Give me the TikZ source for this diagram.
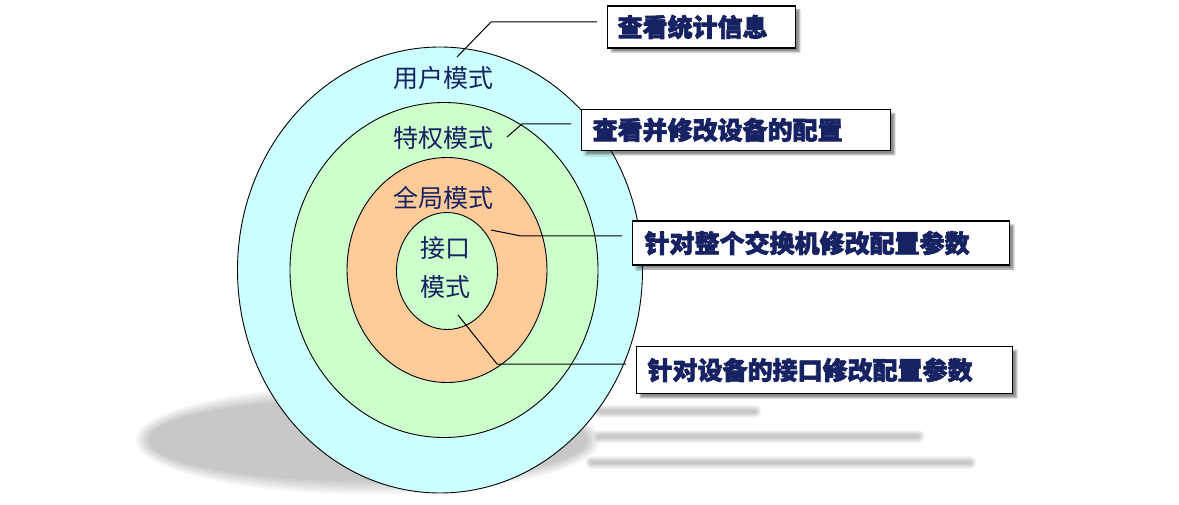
\documentclass[tikz,border=0pt]{standalone}
\usepackage{fontspec}
\usepackage{tikz}
\usetikzlibrary{shapes.geometric,shadows.blur}
\newfontfamily\cjk{Noto Sans CJK SC}
\newfontfamily\cjkheavy[BoldFeatures={FakeBold=2.5}]{Noto Sans CJK SC}
\definecolor{mdnavy}{RGB}{22,34,98}
\definecolor{mdcyan}{RGB}{204,255,255}
\definecolor{mdgreen}{RGB}{204,255,204}
\definecolor{mdorange}{RGB}{255,204,153}
\tikzset{
  mdring/.style={ellipse, draw=black, line width=0.9pt, inner sep=0pt, outer sep=0pt},
  mdlabel/.style={font=\cjk\fontsize{25}{39}\selectfont, text=mdnavy, align=center, inner sep=0pt},
  mdbox/.style={draw=black, line width=1.2pt, fill=white, anchor=west, align=left,
    inner xsep=10pt, inner ysep=0pt, font=\cjkheavy\bfseries\fontsize{25}{30}\selectfont, text=mdnavy,
    blur shadow={shadow xshift=4pt, shadow yshift=-4pt, shadow blur steps=6, shadow opacity=45}},
  mdline/.style={draw=black, line width=1pt, shorten >=10pt}
}

\begin{document}
\begin{tikzpicture}[x=1pt, y=-1pt]
  \useasboundingbox (0,0) rectangle (1179,505);
  % soft shadows under the rings
  \foreach \k in {0,...,5}
    \fill[black, opacity=0.04] (368,440) ellipse [x radius={(232-2.5*\k)*1pt}, y radius={(54-2.5*\k)*1pt}];
  \foreach \yy/\xl/\xr in {411/600/755, 436/600/918, 462/592/970}
    \foreach \k in {0,...,5}
      \draw[black, opacity=0.04, line width={(13-2*\k)*1pt}, line cap=round] (\xl,\yy) -- (\xr,\yy);
  % rings
  \node[mdring, fill=mdcyan, minimum width=405pt, minimum height=446pt] (ruser) at (440,270) {};
  \node[mdring, fill=mdgreen, minimum width=308pt, minimum height=335pt] (rpriv) at (444,270) {};
  \node[mdring, fill=mdorange, minimum width=200pt, minimum height=225pt] (rglob) at (447,270) {};
  \node[mdring, fill=mdgreen, minimum width=101pt, minimum height=117pt] (rintf) at (447,271) {};
  \node[mdlabel] (luser) at (443,78) {用户模式};
  \node[mdlabel] (lpriv) at (443,138) {特权模式};
  \node[mdlabel] (lglob) at (443,198) {全局模式};
  \node[mdlabel] (lintf) at (445,268) {接口\\模式};
  % callouts
  \node[mdbox, text width=168pt, minimum height=42pt] (buser) at (607,27) {查看统计信息};
  \node[mdbox, text width=287pt, minimum height=41pt, inner xsep=11pt] (bpriv) at (581,130) {查看并修改设备的配置};
  \node[mdbox, text width=353pt, minimum height=44pt, inner xsep=12pt] (bglob) at (632,243) {针对整个交换机修改配置参数};
  \node[mdbox, text width=354pt, minimum height=47pt, inner xsep=11pt] (bintf) at (636,370) {针对设备的接口修改配置参数};
  \coordinate (puser) at (457,57);  \coordinate (kuser) at (491,22);
  \coordinate (ppriv) at (507,137); \coordinate (kpriv) at (522,124);
  \coordinate (pglob) at (491,230); \coordinate (kglob) at (521,236);
  \coordinate (pintf) at (458,315); \coordinate (kintf) at (497,364);
  \draw[mdline] (puser) -- (kuser) -- (kuser -| buser.west);
  \draw[mdline] (ppriv) -- (kpriv) -- (kpriv -| bpriv.west);
  \draw[mdline] (pglob) -- (kglob) -- (kglob -| bglob.west);
  \draw[mdline] (pintf) -- (kintf) -- (kintf -| bintf.west);
\end{tikzpicture}
\end{document}
